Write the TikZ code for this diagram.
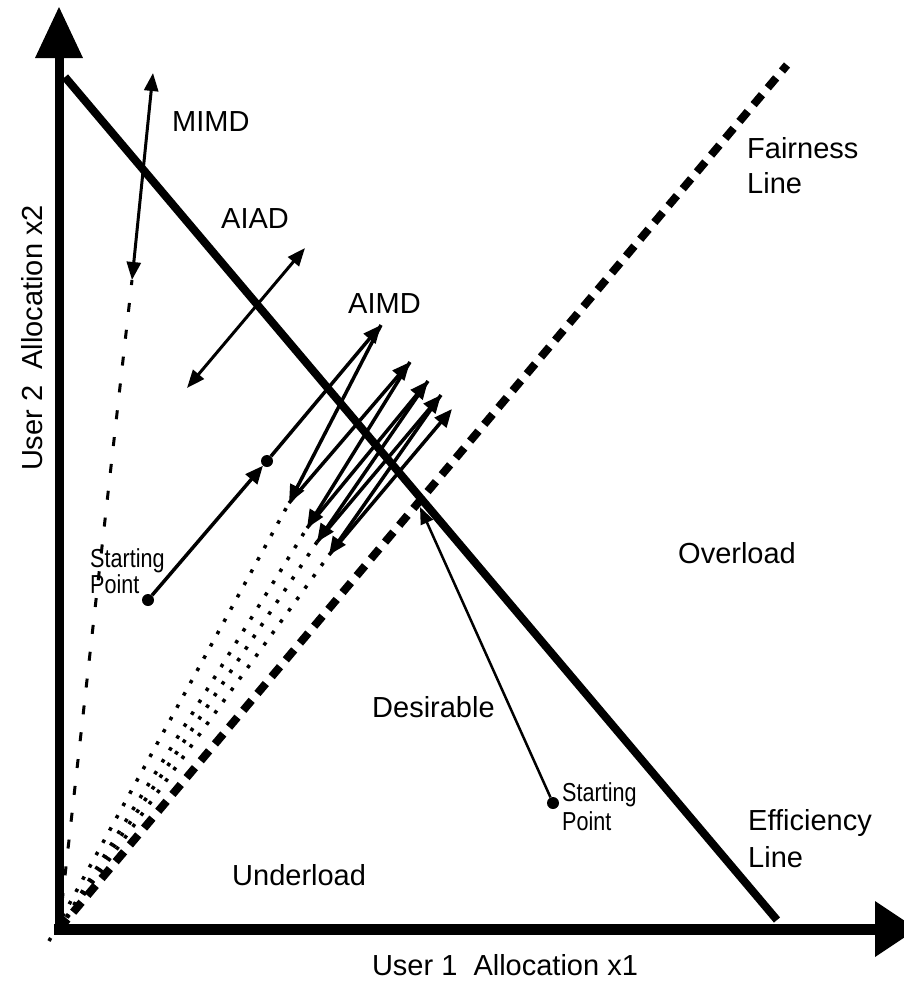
\documentclass[tikz,border=0pt]{standalone}
\usepackage{fontspec}
\setmainfont{Liberation Sans}
\newfontfamily\narrowsans[FakeStretch=0.83]{Liberation Sans}
\usetikzlibrary{arrows.meta}

\begin{document}
\begin{tikzpicture}[x=1pt,y=-1pt,
  lbl/.style={anchor=base west, inner sep=0pt, font=\fontsize{29}{35}\selectfont},
  small/.style={anchor=base west, inner sep=0pt, font=\narrowsans\fontsize{26}{28}\selectfont},
  dotnode/.style={circle, fill, inner sep=0pt, minimum size=12pt},
  axisline/.style={line width=9pt},
  effline/.style={line width=8pt},
  fairline/.style={line width=8pt, dash pattern=on 13pt off 9pt},
  ray/.style={line width=3.5pt, dash pattern=on 3.5pt off 10.5pt},
  mimdray/.style={line width=3pt, dash pattern=on 9pt off 18pt},
  zig/.style={line width=3.5pt, -{Triangle[length=18pt,width=15pt]}},
  move/.style={line width=3pt, {Triangle[length=18pt,width=14pt]}-{Triangle[length=18pt,width=14pt]}},
  path/.style={line width=2.5pt, -{Triangle[length=17pt,width=13pt]}}
]
\useasboundingbox (0,0) rectangle (904,989);
\clip (0,0) rectangle (904,989);

% key points
\coordinate (O) at (59,929);
\coordinate (Otail) at (49,941);
\coordinate (effA) at (65,77);
\coordinate (effB) at (777,920);
\coordinate (fairB) at (787,65);
\coordinate (yend) at (59,58);
\coordinate (ytip) at (59,7);
\coordinate (xend) at (875,929);
\coordinate (xtip) at (917,929);

% AIMD zigzag: peaks p, troughs q
\coordinate (p1) at (381,325);
\coordinate (q1) at (289,503);
\coordinate (p2) at (410,362);
\coordinate (q2) at (307,528);
\coordinate (p3) at (428,381);
\coordinate (q3) at (317,542);
\coordinate (p4) at (441,395);
\coordinate (q4) at (329,555);
\coordinate (p5) at (452,409);

% MIMD and AIAD moves
\coordinate (m1) at (153,73);
\coordinate (m2) at (132,280);
\coordinate (a1) at (305,248);
\coordinate (a2) at (187,388);

% rays through the origin
\draw[ray] (Otail) -- (q1);
\draw[ray] (O) -- (q2);
\draw[ray] (O) -- (q3);
\draw[ray] (O) -- (q4);
\draw[mimdray] (O) -- (m2);

% fairness and efficiency lines
\draw[fairline] (O) -- (fairB);
\draw[effline] (effA) -- (effB);

% axes
\draw[axisline] (59,935) -- (yend);
\fill (ytip) -- (35,58) -- (83,58) -- cycle;
\draw[line width=11pt] (54,929) -- (xend);
\fill (xtip) -- (875,901) -- (875,957) -- cycle;

% MIMD and AIAD
\draw[move] (m2) -- (m1);
\draw[move] (a2) -- (a1);

% AIMD path
\node[dotnode] (s1) at (148,600) {};
\node[dotnode] (d1) at (267,461) {};
\draw[zig] (s1) -- (d1);
\draw[zig] (d1) -- (p1);
\draw[zig] (p1) -- (q1);
\draw[zig] (q1) -- (p2);
\draw[zig] (p2) -- (q2);
\draw[zig] (q2) -- (p3);
\draw[zig] (p3) -- (q3);
\draw[zig] (q3) -- (p4);
\draw[zig] (p4) -- (q4);
\draw[zig] (q4) -- (p5);

% second starting point
\node[dotnode] (s2) at (553,803) {};
\coordinate (e2) at (420,507);
\draw[path] (s2) -- (e2);

% labels
\node[lbl] (tmimd) at (172,131) {MIMD};
\node[lbl] (taiad) at (221,228) {AIAD};
\node[lbl] (taimd) at (348,313) {AIMD};
\node[lbl] (tfair1) at (747,158) {Fairness};
\node[lbl] (tfair2) at (747,193) {Line};
\node[lbl] (tover) at (678,563) {Overload};
\node[lbl] (tdes) at (372,717) {Desirable};
\node[lbl] (tunder) at (232,885) {Underload};
\node[lbl] (teff1) at (748,830) {Efficiency};
\node[lbl] (teff2) at (748,867) {Line};
\node[small] (ts1a) at (90,567) {Starting};
\node[small] (ts1b) at (90,593) {Point};
\node[small] (ts2a) at (562,801) {Starting};
\node[small] (ts2b) at (562,830) {Point};
\node[lbl, anchor=base] (txlab) at (505,975) {User 1\ \ Allocation x1};
\node[lbl, anchor=base, rotate=90] (tylab) at (42,338) {User 2\ \ Allocation x2};
\end{tikzpicture}
\end{document}
